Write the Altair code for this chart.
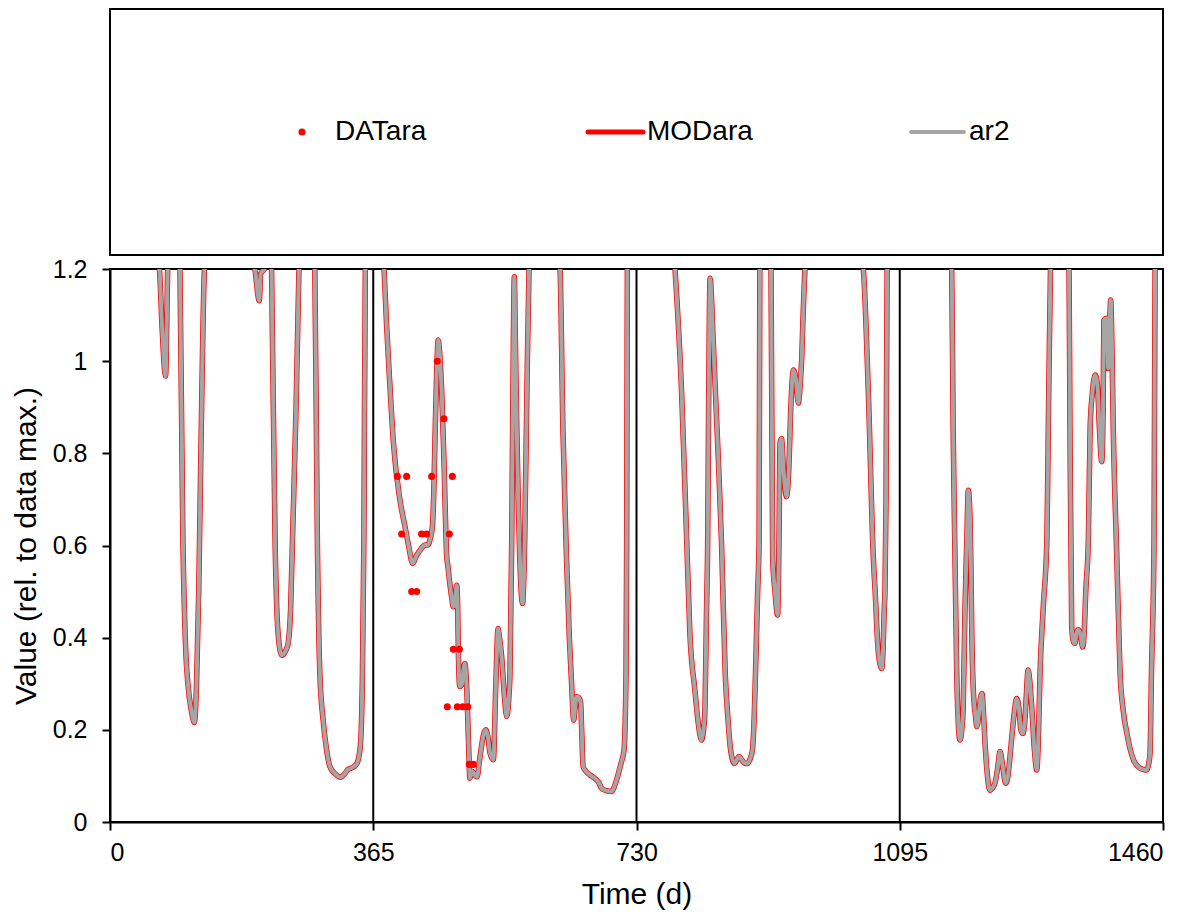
import altair as alt
import pandas as pd

# ---------------- data ----------------
mod_day = [
    0, 68.4, 72, 77, 80, 88,
    97, 101, 105, 108, 113, 117, 120, 123, 126, 131, 165,
    201, 207, 209, 214, 218,
    224, 229, 233, 238, 243, 247, 250.5, 253, 258, 262, 273,
    284, 287.5, 291, 296, 300, 305, 312, 320, 325, 330, 336, 342, 347, 350, 352, 354, 367,
    380, 383.6, 388, 393, 402, 409, 414, 419.7, 425, 430, 437, 441, 444, 447, 449, 451, 453, 455, 457,
    460, 463, 467, 468, 471, 473.6, 476, 478, 480.7, 482, 483, 485, 488, 490, 492, 494.5, 497, 499,
    502, 505, 507, 509, 512, 515, 518, 521, 524, 527, 531.5, 535, 538, 540, 543, 547, 550, 553,
    554.6, 557, 559, 560.6, 562, 564, 566, 568, 572, 575, 578, 581, 600,
    624, 628, 633, 637, 640, 643, 645, 647, 650, 652.6, 654, 656, 660, 665.6, 670, 674.8, 678,
    681.7, 688, 695.6, 700, 705, 709, 712.7, 715.5, 716.4, 717.3, 750,
    783.4, 792.6, 799.6, 804, 811, 816, 820, 823, 825, 827, 828.7, 830, 832, 836.5, 843.5, 848,
    853, 857, 860, 865.7, 869, 872, 876, 880, 884, 887, 890.7, 893, 895, 898, 900, 901, 908,
    916.5, 918.8, 922, 925.6, 927.6, 929, 931, 934, 938, 941, 944, 947.5, 951, 954.4, 957, 959,
    961, 963.7, 1000,
    1044.5, 1051.5, 1058.4, 1060.8, 1065, 1068, 1070, 1072, 1073.6, 1074.5, 1076, 1077.5, 1120,
    1167, 1169, 1171.6, 1174, 1176, 1178.5, 1181, 1183, 1185.5, 1188, 1190, 1192, 1193.5, 1195,
    1197, 1200, 1202, 1205, 1207, 1209, 1211, 1213, 1216, 1220, 1224, 1227, 1231, 1234, 1237,
    1240, 1242, 1245, 1250, 1254, 1257, 1260, 1263, 1265.5, 1268, 1270, 1273, 1275, 1278, 1282,
    1285, 1287, 1289.5, 1294, 1299, 1301, 1304, 1316,
    1329.7, 1331, 1333.4, 1336, 1338, 1340, 1342.6, 1345, 1348.7, 1351, 1353, 1356.5, 1359, 1362,
    1366, 1369, 1372, 1375, 1377, 1378, 1382, 1384, 1386, 1387.5, 1389, 1391, 1396, 1400.5, 1405,
    1410, 1415, 1419, 1428, 1433, 1437.5, 1440, 1442, 1444, 1447.6, 1449, 1460,
]
mod_value = [
    1.6, 1.2, 1.08, 0.968, 1.2, 1.6,
    1.2, 0.62, 0.373, 0.3, 0.24, 0.216, 0.3, 0.5, 0.8, 1.2, 1.6,
    1.2, 1.131, 1.19, 1.2, 1.6,
    1.2, 0.6, 0.41, 0.362, 0.37, 0.388, 0.467, 0.612, 0.9, 1.2, 1.6,
    1.2, 0.612, 0.32, 0.214, 0.16, 0.12, 0.105, 0.097, 0.104, 0.114, 0.118, 0.126, 0.163, 0.32, 0.612, 1.2, 1.6,
    1.2, 1.075, 0.95, 0.822, 0.699, 0.641, 0.6, 0.561, 0.578, 0.59, 0.601, 0.601, 0.615, 0.641, 0.72, 0.858, 0.98, 1.046, 1.02,
    0.93, 0.786, 0.573, 0.561, 0.52, 0.489, 0.467, 0.47, 0.514, 0.47, 0.37, 0.294, 0.3, 0.33, 0.344, 0.294, 0.178, 0.095,
    0.11, 0.105, 0.1, 0.098, 0.13, 0.163, 0.19, 0.2, 0.185, 0.149, 0.135, 0.3, 0.42, 0.4, 0.359, 0.27, 0.229, 0.27,
    0.323, 0.612, 1.0, 1.183, 1.05, 0.858, 0.7, 0.58, 0.474, 0.612, 0.93, 1.2, 1.6,
    1.2, 0.85, 0.572, 0.395, 0.3, 0.221, 0.25, 0.272, 0.27, 0.258, 0.2, 0.12, 0.11, 0.102, 0.097, 0.091, 0.085,
    0.073, 0.068, 0.066, 0.08, 0.106, 0.13, 0.156, 0.323, 0.612, 1.2, 1.6,
    1.2, 0.93, 0.612, 0.41, 0.286, 0.21, 0.178, 0.2, 0.25, 0.45, 0.612, 0.9, 1.18, 1.039, 0.786, 0.6,
    0.323, 0.22, 0.163, 0.127, 0.135, 0.142, 0.135, 0.128, 0.127, 0.135, 0.156, 0.22, 0.323, 0.5, 0.612, 1.2, 1.6,
    1.2, 0.572, 0.5, 0.449, 0.612, 0.822, 0.832, 0.76, 0.706, 0.76, 0.9, 0.981, 0.96, 0.909, 0.95, 1.003,
    1.1, 1.2, 1.6,
    1.2, 0.93, 0.572, 0.503, 0.373, 0.34, 0.333, 0.38, 0.467, 0.5, 0.7, 1.2, 1.6,
    1.2, 0.858, 0.572, 0.323, 0.22, 0.178, 0.2, 0.25, 0.467, 0.612, 0.72, 0.68, 0.572, 0.4,
    0.286, 0.23, 0.207, 0.24, 0.27, 0.279, 0.24, 0.178, 0.11, 0.069, 0.075, 0.084, 0.12, 0.153, 0.13,
    0.095, 0.084, 0.1, 0.178, 0.24, 0.268, 0.25, 0.2, 0.192, 0.21, 0.26, 0.33, 0.31, 0.25, 0.15,
    0.113, 0.17, 0.323, 0.467, 0.612, 0.858, 1.2, 1.6,
    1.2, 0.858, 0.424, 0.39, 0.388, 0.41, 0.417, 0.41, 0.38, 0.42, 0.503, 0.612, 0.858, 0.93,
    0.97, 0.95, 0.85, 0.782, 0.9, 1.089, 1.093, 0.984, 1.08, 1.133, 1.05, 0.858, 0.572, 0.323, 0.24,
    0.192, 0.155, 0.135, 0.117, 0.114, 0.113, 0.125, 0.149, 0.323, 0.612, 1.2, 1.6,
]
# the ar2 curve lies on top of MODara everywhere in the picture
ar2_day = list(mod_day)
ar2_value = list(mod_value)

dat_day = [453.8, 463, 398.4, 411.3, 446, 474.7, 404.4, 432, 439, 470.5,
           418.3, 425.2, 476, 484.4, 467.7, 481.6, 489, 496, 498.2, 503.8]
dat_value = [1.0, 0.875, 0.75, 0.75, 0.75, 0.75, 0.625, 0.625, 0.625, 0.625,
             0.5, 0.5, 0.375, 0.375, 0.25, 0.25, 0.25, 0.25, 0.125, 0.125]

x_ticks = [0, 365, 730, 1095, 1460]
y_ticks = [0, 0.2, 0.4, 0.6, 0.8, 1.0, 1.2]
divider_days = [365, 730, 1095]
legend_names = ["DATara", "MODara", "ar2"]

# ---------------- style / layout ----------------
FONT = "Liberation Sans"
RED = "#FF0000"
GREY = "#A5A5A5"
W = 1053
H = 553
LEG_H = 246
TICK_FS = 25
TITLE_FS = 30
Y_LABEL_PAD = 15
Y_TITLE_PAD = 11

mod_df = pd.DataFrame({"day": mod_day, "value": mod_value})
ar2_df = pd.DataFrame({"day": ar2_day, "value": ar2_value})
dat_df = pd.DataFrame({"day": dat_day, "value": dat_value})
div_df = pd.DataFrame({"day": divider_days})

axis_common = dict(
    grid=False, domainColor="black", domainWidth=2, tickColor="black", tickWidth=2,
    tickSize=8, labelFontSize=TICK_FS, labelColor="black", labelFont=FONT,
    titleFont=FONT, titleFontSize=TITLE_FS, titleFontWeight="normal", titleColor="black",
)

x_enc = alt.X("day:Q", scale=alt.Scale(domain=[0, 1460], nice=False, zero=False),
              axis=alt.Axis(values=x_ticks, format="d", title="Time (d)",
                            labelPadding=10, titlePadding=14, **axis_common))
y_axis = alt.Axis(values=y_ticks, format="~g", title="Value (rel. to data max.)",
                  labelPadding=Y_LABEL_PAD, titlePadding=Y_TITLE_PAD, **axis_common)
y_enc = alt.Y("value:Q", scale=alt.Scale(domain=[0, 1.2], nice=False), axis=y_axis)

mod_line = alt.Chart(mod_df).mark_line(
    color=RED, strokeWidth=5.5, clip=True, interpolate="monotone", strokeJoin="round"
).encode(x=x_enc, y=y_enc)
ar2_line = alt.Chart(ar2_df).mark_line(
    color=GREY, strokeWidth=4, clip=True, interpolate="monotone", strokeJoin="round"
).encode(x="day:Q", y="value:Q")
dat_pts = alt.Chart(dat_df).mark_point(
    filled=True, color=RED, size=50, opacity=1, shape="circle"
).encode(x="day:Q", y="value:Q")
dividers = alt.Chart(div_df).mark_rule(color="black", strokeWidth=2).encode(x="day:Q")

main = alt.layer(mod_line, ar2_line, dividers, dat_pts).properties(width=W, height=H)

# ---------------- legend panel ----------------
leg_x = alt.Scale(domain=[0, W], nice=False, zero=False)
leg_y = alt.Scale(domain=[0, 1.2], nice=False)
# invisible axis with the same thickness as the main y axis, so both panels line up
ghost_y = alt.Axis(values=[0.6], title="Value", labelExpr="'1.2'",
                   labelPadding=Y_LABEL_PAD, titlePadding=Y_TITLE_PAD, grid=False,
                   domain=False, tickColor="transparent", tickSize=8,
                   labelColor="transparent", titleColor="transparent",
                   labelFontSize=TICK_FS, labelFont=FONT, titleFont=FONT,
                   titleFontSize=TITLE_FS, titleFontWeight="normal")

leg_dot = pd.DataFrame({"name": [legend_names[0]], "px": [192], "py": [0.6]})
leg_seg = pd.DataFrame({"name": legend_names[1:], "px": [478, 801], "px2": [533, 854],
                        "py": [0.6, 0.6]})
leg_txt = pd.DataFrame({"name": legend_names, "px": [225, 537, 859], "py": [0.6, 0.6, 0.6]})

l_dot = alt.Chart(leg_dot).mark_point(filled=True, color=RED, size=50, opacity=1).encode(
    x=alt.X("px:Q", scale=leg_x, axis=None),
    y=alt.Y("py:Q", scale=leg_y, axis=ghost_y))
l_seg = alt.Chart(leg_seg).mark_rule(strokeCap="round").encode(
    x="px:Q", x2="px2:Q", y="py:Q",
    color=alt.Color("name:N", scale=alt.Scale(domain=legend_names[1:], range=[RED, GREY]),
                    legend=None),
    strokeWidth=alt.StrokeWidth("name:N", scale=alt.Scale(domain=legend_names[1:],
                                                          range=[5, 3.8]), legend=None))
l_txt = alt.Chart(leg_txt).mark_text(
    align="left", baseline="middle", font=FONT, fontSize=28, color="black"
).encode(x="px:Q", y="py:Q", text="name:N")

legend_panel = alt.layer(l_dot, l_seg, l_txt).properties(width=W, height=LEG_H)

chart = alt.vconcat(legend_panel, main, spacing=0).properties(
    padding={"left": 2, "top": 0, "right": 5, "bottom": 0}
).configure(background="white").configure_view(stroke="black", strokeWidth=2)

chart.save("out.html", embed_options={"renderer": "svg", "actions": False})
